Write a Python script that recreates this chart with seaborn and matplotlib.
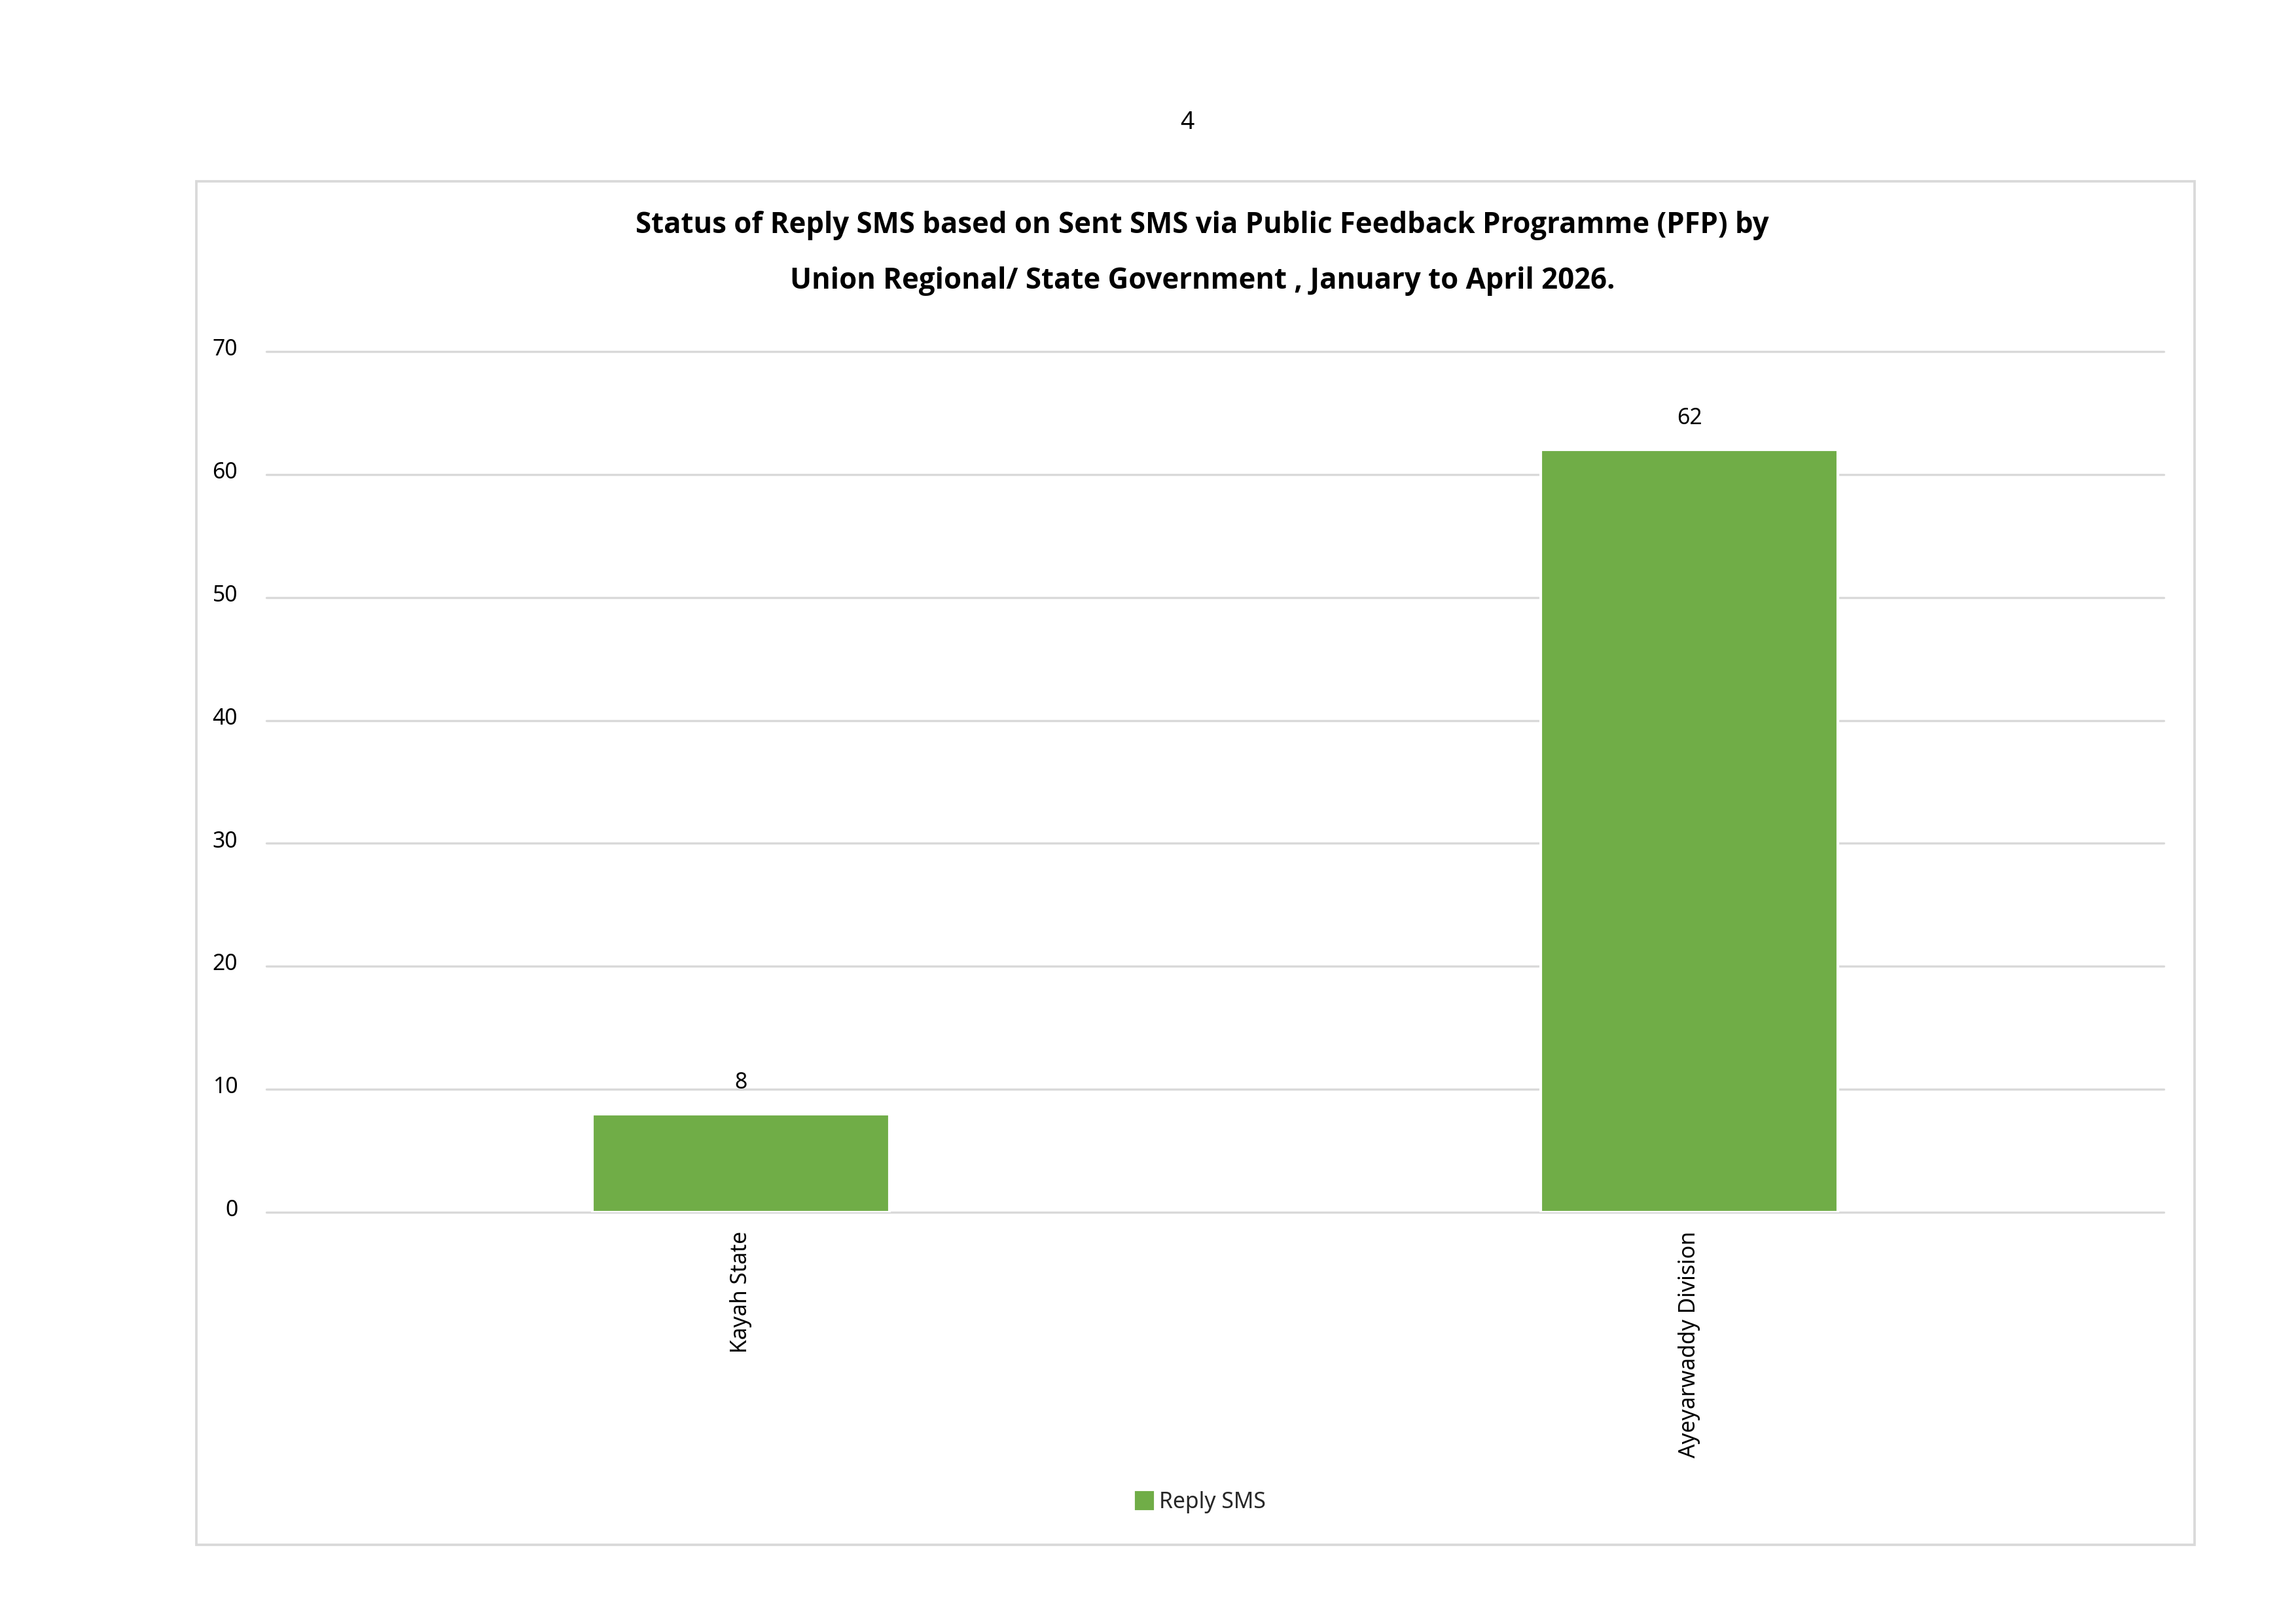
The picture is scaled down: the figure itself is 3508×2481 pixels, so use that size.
import matplotlib
matplotlib.use("Agg")
import matplotlib.pyplot as plt
import matplotlib.patches as mpatches
import matplotlib.transforms as mtrans
import seaborn as sns
import pandas as pd

categories = ["Kayah State", "Ayeyarwaddy Division"]
reply_sms = [8, 62]
series_name = "Reply SMS"
title_lines = ["Status of Reply SMS based on Sent SMS via Public Feedback Programme (PFP) by",
               "Union Regional/ State Government , January to April 2026."]
page_number = "4"
y_ticks = [0, 10, 20, 30, 40, 50, 60, 70]

sns.set_theme(style="white")
plt.rcParams['font.family'] = ['Noto Sans', 'DejaVu Sans']

BAR = "#70AD47"
GRID = "#D9D9D9"
FS = 8.1

df = pd.DataFrame({"Region": categories, "Value": reply_sms})

fig = plt.figure(figsize=(3508/300, 2481/300), dpi=300)
fig.patch.set_facecolor("white")

# outer chart frame
frame = mpatches.Rectangle((0.0855, 0.0488), 0.9558-0.0855, 0.8884-0.0488,
                           transform=fig.transFigure, fill=False,
                           edgecolor=GRID, linewidth=0.9, zorder=0)
fig.patches.append(frame)

ax = fig.add_axes([0.116, 0.2535, 0.9424-0.116, 0.7836-0.2535])
sns.barplot(data=df, x="Region", y="Value", color=BAR, width=0.313,
            saturation=1, ax=ax, label=series_name, zorder=3)

ax.set_ylim(0, 70)
ax.set_yticks(y_ticks)
ax.set_xlim(-0.5, len(categories) - 0.5)
ax.yaxis.grid(True, color=GRID, linewidth=0.8, zorder=0)
for gl in ax.get_ygridlines():
    gl.set_clip_on(False)
ax.xaxis.grid(False)
ax.set_axisbelow(True)
for s in ax.spines.values():
    s.set_visible(False)
ax.set_xlabel("")
ax.set_ylabel("")
ax.tick_params(axis="y", length=0, pad=10.5, labelsize=FS, labelcolor="black")
ax.tick_params(axis="x", length=0, pad=7, labelsize=FS, labelcolor="black")
ax.set_xticks(range(len(categories)))
ax.set_xticklabels(categories, rotation=90, va="top", ha="center")
offset = mtrans.ScaledTranslation(0, 0.7/72, fig.dpi_scale_trans)
for lbl in ax.get_yticklabels():
    lbl.set_verticalalignment("center")
    lbl.set_transform(lbl.get_transform() + offset)

for c in ax.containers:
    ax.bar_label(c, labels=[str(v) for v in reply_sms], padding=7.5, fontsize=FS, color="black")

tfam = ['Open Sans', 'Roboto', 'DejaVu Sans']
fig.text(0.5236, 0.8612, title_lines[0], ha="center", va="center",
         fontsize=10.5, fontweight="bold", color="black", family=tfam)
fig.text(0.5236, 0.8269, title_lines[1], ha="center", va="center",
         fontsize=10.5, fontweight="bold", color="black", family=tfam)
fig.text(0.517, 0.9245, page_number, ha="center", va="center", fontsize=9, color="black")

handle = mpatches.Patch(color=BAR, label=series_name)
if ax.get_legend() is not None:
    ax.get_legend().remove()
fig.legend(handles=[handle], loc="center", bbox_to_anchor=(0.523, 0.0748),
           frameon=False, fontsize=FS, handlelength=0.75, handleheight=0.75,
           handletextpad=0.3)

fig.savefig("out.png", dpi=300)
